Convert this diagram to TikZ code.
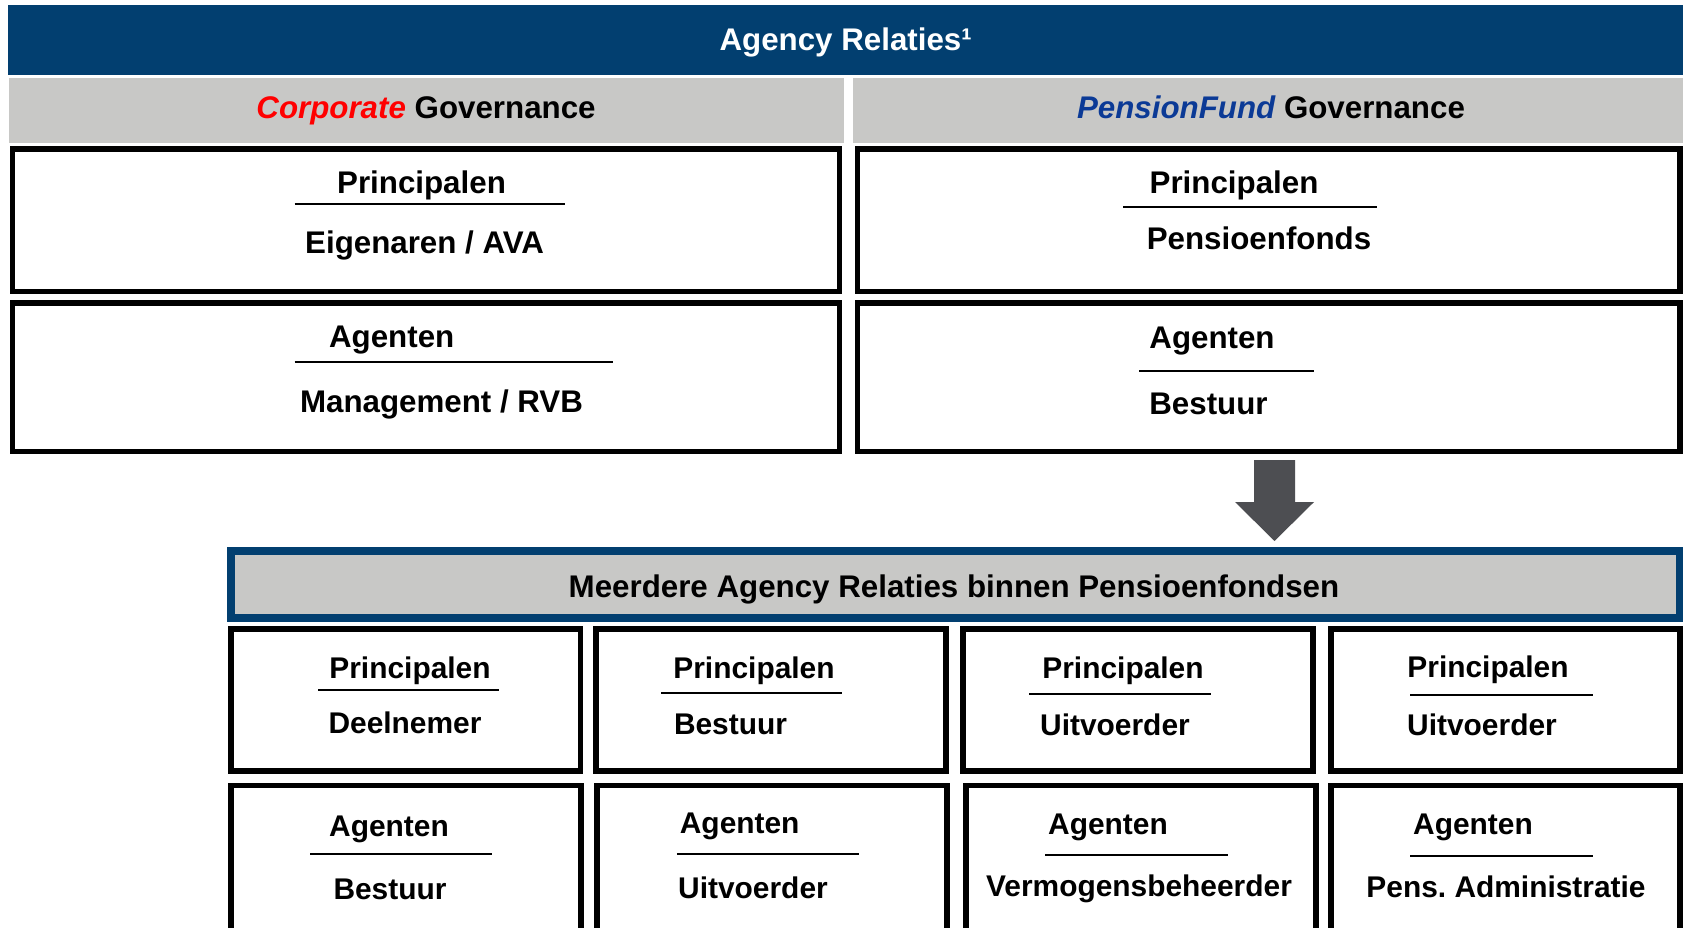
\documentclass[tikz,border=0pt]{standalone}
\usepackage{fontspec}
\setmainfont{Liberation Sans}
\definecolor{bandblue}{HTML}{023F70}
\definecolor{hdrgray}{HTML}{C8C8C6}
\definecolor{arrowgray}{HTML}{4D4E52}
\definecolor{corpred}{HTML}{FF0000}
\definecolor{pfblue}{HTML}{0B3A96}
\frenchspacing
\begin{document}
\begin{tikzpicture}[x=1pt,y=-1pt,
  band/.style={fill=bandblue,draw=none,inner sep=0pt,outer sep=0pt},
  hdr/.style={fill=hdrgray,draw=none,inner sep=0pt,outer sep=0pt},
  bigbox/.style={draw=black,line width=5.5pt,fill=white,inner sep=0pt,outer sep=0pt},
  smallbox/.style={draw=black,line width=5.5pt,fill=white,inner sep=0pt,outer sep=0pt},
  bluebox/.style={draw=bandblue,line width=8pt,fill=hdrgray,inner sep=0pt,outer sep=0pt},
  lbl/.style={font=\fontsize{31.3}{37}\selectfont\bfseries,inner sep=0pt,anchor=base},
  slbl/.style={font=\fontsize{29.9}{36}\selectfont\bfseries,inner sep=0pt,anchor=base},
  uline/.style={line width=2pt,draw=black},
  blockarrow/.style={fill=arrowgray,draw=none}]
\useasboundingbox (0,0) rectangle (1683,927);
\clip (0,0) rectangle (1683,927);
\fill[white] (0,0) rectangle (1683,927);

% top band
\node[band,minimum width=1675pt,minimum height=70pt] (band) at (845.5,40) {};
\node[lbl,text=white] (title) at (845.7,50) {Agency Relaties¹};

% governance headers
\node[hdr,minimum width=835pt,minimum height=65pt] (hleft) at (426.5,110.5) {};
\node[hdr,minimum width=830pt,minimum height=65pt] (hright) at (1268,110.5) {};
\node[lbl] (tleft) at (426,118) {{\itshape\color{corpred}Corporate} Governance};
\node[lbl] (tright) at (1271,118) {{\itshape\color{pfblue}PensionFund} Governance};

% top boxes
\node[bigbox,minimum width=827pt,minimum height=142.5pt] (pl) at (426,220.25) {};
\node[bigbox,minimum width=827pt,minimum height=148.5pt] (al) at (426,377.25) {};
\node[bigbox,minimum width=822.5pt,minimum height=142.5pt] (pr) at (1268.75,220.25) {};
\node[bigbox,minimum width=822.5pt,minimum height=148.5pt] (ar) at (1268.75,377.25) {};

\node[lbl] (plh) at (421.5,193) {Principalen};
\draw[uline] (294.6,204) -- (565,204);
\node[lbl] (plt) at (424.6,253) {Eigenaren / AVA};
\node[lbl] (alh) at (391.7,347) {Agenten};
\draw[uline] (294.6,361.7) -- (613.3,361.7);
\node[lbl] (alt) at (441.5,412) {Management / RVB};

\node[lbl] (prh) at (1234,193.5) {Principalen};
\draw[uline] (1123,207) -- (1377,207);
\node[lbl] (prt) at (1259,249) {Pensioenfonds};
\node[lbl] (arh) at (1212,348) {Agenten};
\draw[uline] (1139,371.4) -- (1314,371.4);
\node[lbl] (art) at (1208.5,414.5) {Bestuur};

% block arrow
\fill[blockarrow] (1254,460) -- (1295,460) -- (1295,502) -- (1314,502)
  -- (1274.5,541) -- (1235,502) -- (1254,502) -- cycle;

% blue box
\node[bluebox,minimum width=1448.7pt,minimum height=67pt] (multi) at (955.2,584.5) {};
\node[lbl] (multit) at (954,597) {Meerdere Agency Relaties binnen Pensioenfondsen};

% bottom row 1
\node[smallbox,minimum width=349.5pt,minimum height=142pt] (p1) at (405.75,700) {};
\node[smallbox,minimum width=350pt,minimum height=142pt] (p2) at (771,700) {};
\node[smallbox,minimum width=350pt,minimum height=142pt] (p3) at (1138,700) {};
\node[smallbox,minimum width=349pt,minimum height=142pt] (p4) at (1505.5,700) {};
% bottom row 2
\node[smallbox,minimum width=350pt,minimum height=174.5pt] (a1) at (406,872.75) {};
\node[smallbox,minimum width=350pt,minimum height=174.5pt] (a2) at (772,872.75) {};
\node[smallbox,minimum width=350pt,minimum height=174.5pt] (a3) at (1141,872.75) {};
\node[smallbox,minimum width=349pt,minimum height=174.5pt] (a4) at (1505.5,872.75) {};

% texts row 1
\node[slbl] (p1h) at (410,678) {Principalen};
\draw[uline] (318,690) -- (499,690);
\node[slbl] (p1t) at (405,733.5) {Deelnemer};

\node[slbl] (p2h) at (754,678) {Principalen};
\draw[uline] (661,692.7) -- (842,692.7);
\node[slbl] (p2t) at (730.5,734) {Bestuur};

\node[slbl] (p3h) at (1123,678) {Principalen};
\draw[uline] (1029,694) -- (1211,694);
\node[slbl] (p3t) at (1115,735) {Uitvoerder};

\node[slbl] (p4h) at (1488,677.5) {Principalen};
\draw[uline] (1410,695) -- (1592.5,695);
\node[slbl] (p4t) at (1482,735.5) {Uitvoerder};

% texts row 2
\node[slbl] (a1h) at (389,836) {Agenten};
\draw[uline] (310,854.3) -- (491.5,854.3);
\node[slbl] (a1t) at (390,899) {Bestuur};

\node[slbl] (a2h) at (739.7,833.5) {Agenten};
\draw[uline] (676.8,854.3) -- (858.5,854.3);
\node[slbl] (a2t) at (753,898) {Uitvoerder};

\node[slbl] (a3h) at (1108,834.5) {Agenten};
\draw[uline] (1045,855) -- (1227.5,855);
\node[slbl] (a3t) at (1139,896) {Vermogensbeheerder};

\node[slbl] (a4h) at (1473,834.5) {Agenten};
\draw[uline] (1410,855.7) -- (1592.5,855.7);
\node[slbl] (a4t) at (1506,897.5) {Pens. Administratie};
\end{tikzpicture}
\end{document}
